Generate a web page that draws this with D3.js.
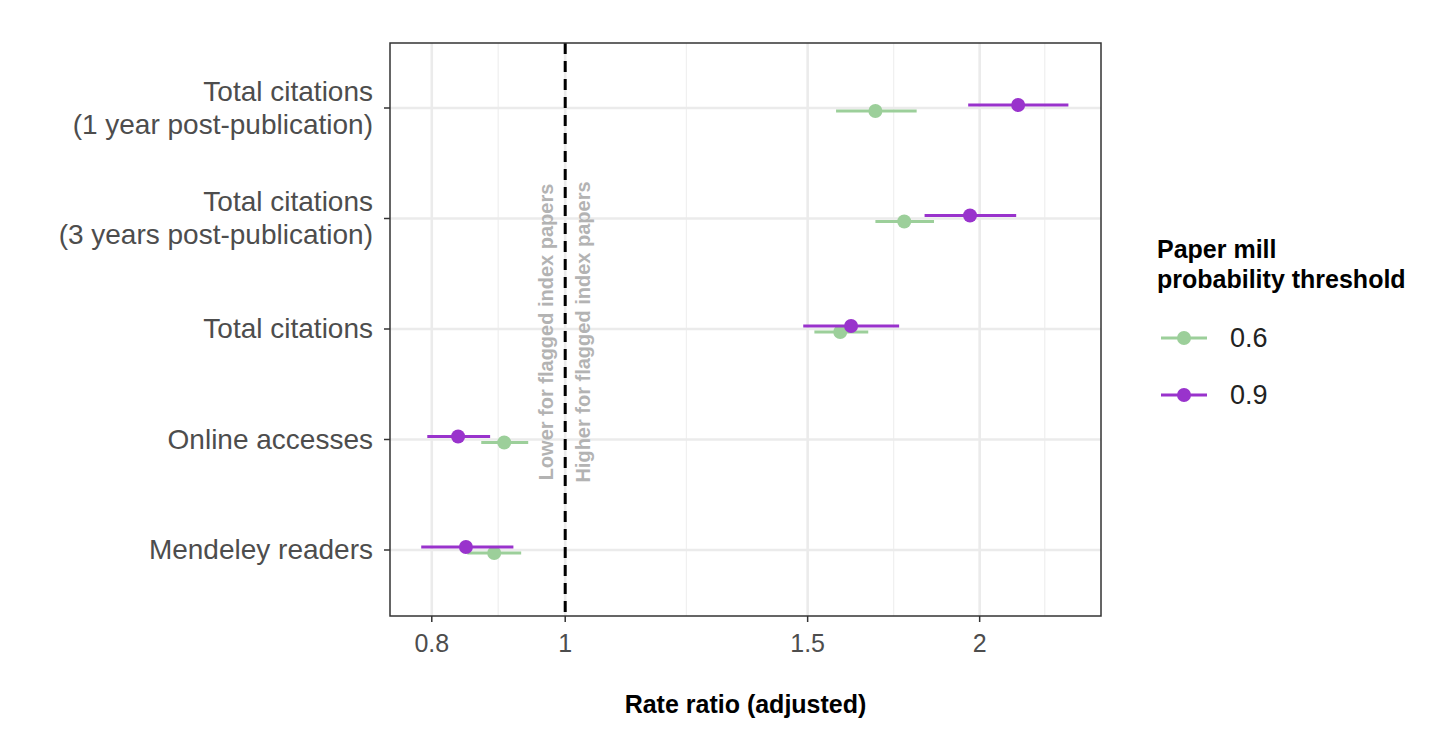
<!DOCTYPE html>
<html><head><meta charset="utf-8">
<script src="https://cdn.jsdelivr.net/npm/d3@7"></script>
<style>body{margin:0;background:#fff}text{font-family:"Liberation Sans",Arial,sans-serif}</style>
</head><body><svg id="c" width="1456" height="740"></svg>
<script>
const categories=[["Total citations","(1 year post-publication)"],["Total citations","(3 years post-publication)"],["Total citations"],["Online accesses"],["Mendeley readers"]];
const series=["0.6","0.9"];
const colors=["#9ccf9a","#9933cc"];
const est06=[1.68,1.763,1.584,0.903,0.888];
const lo06=[1.573,1.68,1.517,0.869,0.849];
const hi06=[1.80,1.853,1.66,0.94,0.929];
const est09=[2.133,1.968,1.613,0.836,0.847];
const lo09=[1.962,1.824,1.489,0.794,0.786];
const hi09=[2.32,2.126,1.748,0.882,0.917];
const xTicks=[0.8,1,1.5,2];
const xMinor=[0.894,1.2247,1.732,2.23];

const svg=d3.select("#c");
const L=390,R=1101,T=43,B=616;
const x=d3.scaleLog().domain([0.746,2.45]).range([L,R]);
const y=d3.scalePoint().domain(d3.range(5)).range([108,550]);
const off=[3,-3];
const g=svg.append("g");
xMinor.forEach(v=>g.append("line").attr("x1",x(v)).attr("x2",x(v)).attr("y1",T).attr("y2",B).attr("stroke","#f0f0f0").attr("stroke-width",1.3));
xTicks.forEach(v=>g.append("line").attr("x1",x(v)).attr("x2",x(v)).attr("y1",T).attr("y2",B).attr("stroke","#ebebeb").attr("stroke-width",2.6));
d3.range(5).forEach(i=>g.append("line").attr("x1",L).attr("x2",R).attr("y1",y(i)).attr("y2",y(i)).attr("stroke","#ebebeb").attr("stroke-width",2.6));
g.append("line").attr("x1",x(1)).attr("x2",x(1)).attr("y1",T).attr("y2",B).attr("stroke","#000").attr("stroke-width",3).attr("stroke-dasharray","11,7");
g.append("text").attr("transform",`translate(${x(1)-12},332) rotate(-90)`).attr("text-anchor","middle").attr("font-size",20).attr("font-weight","bold").attr("fill","#b3b3b3").text("Lower for flagged index papers");
g.append("text").attr("transform",`translate(${x(1)+25},332) rotate(-90)`).attr("text-anchor","middle").attr("font-size",20).attr("font-weight","bold").attr("fill","#b3b3b3").text("Higher for flagged index papers");
const S=[[est06,lo06,hi06],[est09,lo09,hi09]];
S.forEach((s,k)=>{d3.range(5).forEach(i=>{
 const yy=y(i)+off[k];
 g.append("line").attr("x1",x(s[1][i])).attr("x2",x(s[2][i])).attr("y1",yy).attr("y2",yy).attr("stroke",colors[k]).attr("stroke-width",3);
 g.append("circle").attr("cx",x(s[0][i])).attr("cy",yy).attr("r",7).attr("fill",colors[k]);
});});
g.append("rect").attr("x",L).attr("y",T).attr("width",R-L).attr("height",B-T).attr("fill","none").attr("stroke","#333").attr("stroke-width",1.5);
xTicks.forEach(v=>{g.append("line").attr("x1",x(v)).attr("x2",x(v)).attr("y1",B).attr("y2",B+6).attr("stroke","#333").attr("stroke-width",1.5);
 g.append("text").attr("x",x(v)).attr("y",B+36).attr("text-anchor","middle").attr("font-size",25).attr("fill","#4d4d4d").text(v);});
categories.forEach((c,i)=>{g.append("line").attr("x1",L-6).attr("x2",L).attr("y1",y(i)).attr("y2",y(i)).attr("stroke","#333").attr("stroke-width",1.5);
 const n=c.length;c.forEach((t,j)=>g.append("text").attr("x",L-17).attr("y",y(i)+9+(j-(n-1)/2)*33).attr("text-anchor","end").attr("font-size",28).attr("fill","#4d4d4d").text(t));});
g.append("text").attr("x",(L+R)/2).attr("y",713).attr("text-anchor","middle").attr("font-size",25).attr("font-weight","bold").text("Rate ratio (adjusted)");
g.append("text").attr("x",1157).attr("y",258).attr("font-size",25).attr("font-weight","bold").text("Paper mill");
g.append("text").attr("x",1157).attr("y",288).attr("font-size",25).attr("font-weight","bold").text("probability threshold");
series.forEach((s,k)=>{const yy=338+k*57;
 g.append("line").attr("x1",1161).attr("x2",1207).attr("y1",yy).attr("y2",yy).attr("stroke",colors[k]).attr("stroke-width",3);
 g.append("circle").attr("cx",1184).attr("cy",yy).attr("r",7).attr("fill",colors[k]);
 g.append("text").attr("x",1230).attr("y",yy+9).attr("font-size",27).attr("fill","#222").text(s);});
</script></body></html>
